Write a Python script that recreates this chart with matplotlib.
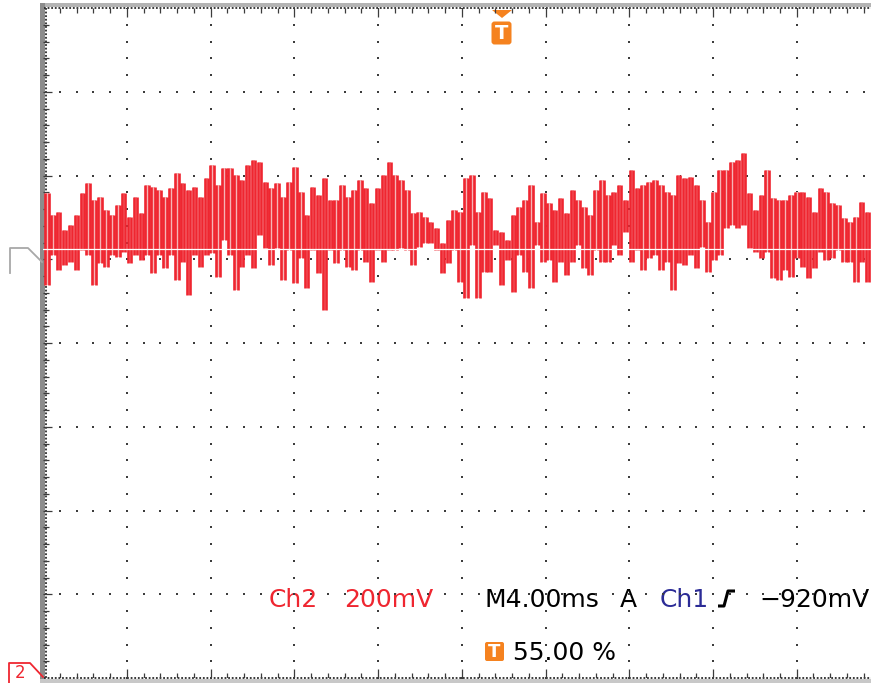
import numpy as np
import matplotlib
matplotlib.use("Agg")
import matplotlib.pyplot as plt
from matplotlib.patches import Rectangle, Polygon, FancyBboxPatch

# Ch2 trace, 200 mV/div, 4 ms/div; one narrow pulse every ~0.28 ms
# top / bottom of each pulse in mV (screen centre = 0 mV)
top_mv = [358, 306, 313, 270, 282, 306, 358, 382, 341, 349, 318, 306, 330, 358, 301, 349, 310, 377, 373, 365,
          349, 370, 406, 382, 365, 373, 349, 394, 425, 377, 418, 418, 401, 389, 425, 437, 432, 384, 370, 382,
          349, 384, 420, 361, 306, 373, 353, 394, 341, 341, 377, 349, 365, 389, 370, 334, 370, 401, 432, 401,
          389, 365, 310, 313, 301, 289, 275, 239, 294, 318, 313, 394, 401, 313, 361, 346, 270, 265, 246, 306,
          325, 341, 377, 289, 358, 334, 318, 346, 310, 365, 341, 325, 306, 365, 389, 353, 361, 377, 341, 413,
          370, 377, 384, 389, 377, 361, 353, 401, 394, 396, 377, 341, 289, 361, 413, 413, 432, 437, 454, 358,
          318, 353, 413, 346, 341, 341, 353, 361, 361, 349, 313, 370, 361, 334, 330, 299, 289, 301, 337, 313]
bot_mv = [139, 210, 174, 186, 193, 174, 222, 210, 139, 191, 181, 210, 205, 217, 191, 210, 198, 210, 167, 210,
          179, 210, 150, 193, 115, 210, 181, 210, 215, 158, 246, 210, 127, 181, 210, 179, 258, 227, 186, 227,
          150, 222, 143, 203, 131, 222, 167, 79, 222, 191, 222, 181, 174, 222, 193, 146, 222, 193, 222, 222,
          227, 222, 186, 229, 239, 239, 222, 167, 191, 222, 146, 107, 234, 107, 170, 170, 234, 139, 198, 122,
          210, 170, 131, 234, 193, 198, 146, 193, 162, 193, 234, 179, 162, 222, 193, 193, 234, 210, 265, 193,
          222, 174, 203, 210, 174, 193, 127, 191, 186, 210, 179, 229, 170, 198, 210, 275, 282, 275, 282, 227,
          217, 203, 217, 155, 150, 174, 158, 203, 181, 155, 179, 217, 198, 203, 222, 193, 193, 146, 193, 146]
baseline_mv = 224

W, H = 871, 683
fig = plt.figure(figsize=(W / 100, H / 100), dpi=100)

# pixel-space layer for frame, markers and readouts
bg = fig.add_axes([0, 0, 1, 1])
bg.set_xlim(0, W)
bg.set_ylim(H, 0)
bg.axis("off")

ax = fig.add_axes([43 / W, 5 / H, 828 / W, 670 / H])
xmax = 828 / 83.75 * 4
ax.set_xlim(0, xmax)
ax.set_ylim(-800, 800)
ax.axis("off")
ax.patch.set_alpha(0)

# graticule dots
dot = "#3c3c3c"
ys = np.arange(-800, 801, 40)
for xv in np.arange(4, xmax, 4):
    ax.scatter(np.full(ys.size, xv), ys, s=2.4, color=dot, marker="s", lw=0, zorder=1)
xs = np.arange(0.8, xmax, 0.8)
for yv in np.arange(-600, 601, 200):
    ax.scatter(xs, np.full(xs.size, yv), s=2.4, color=dot, marker="s", lw=0, zorder=1)

# edge ticks
for xv in np.arange(0.8, xmax, 0.8):
    ln = 22 if abs(xv / 4 - round(xv / 4)) < 1e-6 else 12
    ax.vlines(xv, 800 - ln, 800, color=dot, lw=0.9, zorder=1)
    ax.vlines(xv, -800, -800 + ln, color=dot, lw=0.9, zorder=1)
for yv in np.arange(-760, 800, 40):
    ln = 0.45 if abs(yv / 200 - round(yv / 200)) < 1e-6 else 0.3
    ax.hlines(yv, 0, ln, color=dot, lw=0.9, zorder=1)

# frame
bg.add_patch(Rectangle((40, 3), W - 40, 4, color="#b4b4b4", lw=0))
bg.add_patch(Rectangle((40, 3), 4.5, H - 3, color="#8c8c8c", lw=0))
bg.add_patch(Rectangle((40, 679), W - 40, 4, color="#c8c8c8", lw=0))
bg.plot([44, W], [8, 8], color="#2a2a2a", lw=1.3, ls=(0, (1, 1)))
bg.plot([44, W], [677.5, 677.5], color="#2a2a2a", lw=1.3, ls=(0, (1, 1)))
bg.plot([45.5, 45.5], [8, 678], color="#2a2a2a", lw=1.3, ls=(0, (1, 1)))

# trace
red = "#ef2630"
pink = "#f6b4b6"
t0, dt, w = 0.1, 0.282, 0.17
t = t0 + dt * np.arange(len(top_mv))
top = np.array(top_mv)
bot = np.array(bot_mv)
ax.bar(t, top - bot, bottom=bot, width=w, align="edge", color=pink, lw=0, zorder=2)
ax.vlines(t, bot, top, color=red, lw=1.9, zorder=3)
ax.vlines(t + w, bot, top, color=red, lw=1.9, zorder=3)
ax.axhline(baseline_mv, color="white", lw=0.9, zorder=4)

# markers
orange = "#f5821f"
bg.add_patch(Polygon([(492, 10), (512, 10), (502, 18)], closed=True, color=orange, lw=0))
bg.add_patch(FancyBboxPatch((493, 23), 17, 20, boxstyle="round,pad=1.5,rounding_size=3", color=orange, lw=0))
bg.text(501.5, 33.5, "T", color="white", fontsize=14, fontweight="bold", ha="center", va="center")
bg.plot([10, 10, 28, 42], [273, 248, 248, 262], color="#a8a8a8", lw=1.3)
bg.plot([9, 9, 30, 43], [684, 663, 663, 677], color=red, lw=1.3)
bg.text(20, 678, "2", color=red, fontsize=12, ha="center", va="baseline")

# readouts
fs = 18
bg.text(269, 607, "Ch2", color=red, fontsize=fs, va="baseline")
bg.text(344, 607, "200mV", color=red, fontsize=fs, va="baseline")
bg.text(484, 607, "M4.00ms", color="black", fontsize=fs, va="baseline")
bg.text(620, 607, "A", color="black", fontsize=fs, va="baseline")
bg.text(660, 607, "Ch1", color="#2b2b96", fontsize=fs, va="baseline")
bg.plot([718, 724, 728, 735], [606, 606, 591, 591], color="black", lw=2.2, solid_capstyle="butt")
bg.text(759, 607, "\u2212920mV", color="black", fontsize=fs, va="baseline")
bg.add_patch(FancyBboxPatch((486, 643), 17, 17, boxstyle="round,pad=1,rounding_size=2", color=orange, lw=0))
bg.text(494.5, 652, "T", color="white", fontsize=13, fontweight="bold", ha="center", va="center")
bg.text(513, 660, "55.00 %", color="black", fontsize=fs, va="baseline")

fig.savefig("out.png", dpi=100)
